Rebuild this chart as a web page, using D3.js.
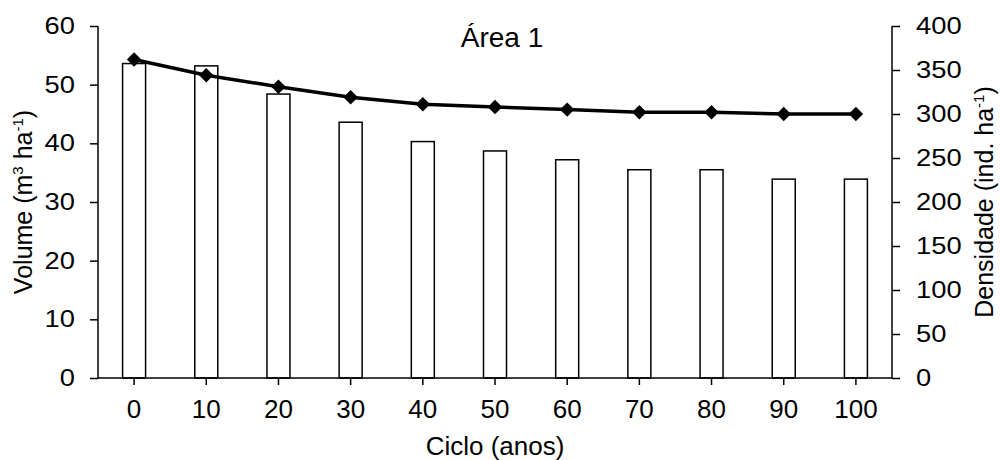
<!DOCTYPE html>
<html>
<head>
<meta charset="utf-8">
<script src="https://cdn.jsdelivr.net/npm/d3@7"></script>
<style>
  body { margin: 0; background: #fff; }
  text { font-family: "Liberation Sans", Arial, sans-serif; fill: #000; }
  .axis path, .axis line { stroke: #000; stroke-width: 1.5; }
</style>
</head>
<body>
<div id="chart"></div>
<script>
// Data
let ciclos = [0, 10, 20, 30, 40, 50, 60, 70, 80, 90, 100];
let volume = [53.6, 53.2, 48.4, 43.6, 40.3, 38.7, 37.2, 35.5, 35.5, 33.9, 33.9];
let densidade = [362, 344, 331, 319, 311, 308, 305, 302, 302, 300, 300];
let volumeTicks = [0, 10, 20, 30, 40, 50, 60];
let densidadeTicks = [0, 50, 100, 150, 200, 250, 300, 350, 400];

// Set dimensions and margins
let margin = { top: 26, right: 108, bottom: 82, left: 98 },
    width = 1000 - margin.left - margin.right,
    height = 460 - margin.top - margin.bottom;

// Set ranges
let x = d3.scaleBand().domain(ciclos).range([0, width]).padding(0);
let yL = d3.scaleLinear().domain([0, 60]).range([height, 0]);
let yR = d3.scaleLinear().domain([0, 400]).range([height, 0]);

let svg = d3.select('#chart')
    .append('svg')
    .attr('width', 1000)
    .attr('height', 460)
    .append('g')
    .attr('transform', 'translate(' + margin.left + ',' + margin.top + ')');

// Bars
let barW = 23;
svg.selectAll('.bar')
    .data(ciclos)
    .enter().append('rect')
    .attr('class', 'bar')
    .attr('x', function (d) { return x(d) + x.bandwidth() / 2 - barW / 2; })
    .attr('y', function (d, i) { return yL(volume[i]); })
    .attr('width', barW)
    .attr('height', function (d, i) { return height - yL(volume[i]); })
    .attr('fill', '#fff')
    .attr('stroke', '#000')
    .attr('stroke-width', 1.5);

// y tick labels are a little wider than the font in the original
function wideLabels(sel) {
    sel.style('font-size', '23px')
        .attr('lengthAdjust', 'spacingAndGlyphs')
        .attr('textLength', function () { return this.textContent.length * 15.2; });
}

// Axes
let xAxis = svg.append('g')
    .attr('class', 'axis')
    .attr('transform', 'translate(0,' + height + ')')
    .call(d3.axisBottom(x).tickSizeOuter(0).tickSize(7).tickPadding(15));
xAxis.selectAll('text').style('font-size', '26px');
xAxis.select('.domain').attr('d', 'M0,0H' + width);

let leftAxis = svg.append('g')
    .attr('class', 'axis')
    .call(d3.axisLeft(yL).tickValues(volumeTicks).tickSizeOuter(0).tickSize(8).tickPadding(15));
leftAxis.selectAll('text').call(wideLabels);
leftAxis.select('.domain').attr('d', 'M0,' + height + 'V0');

let rightAxis = svg.append('g')
    .attr('class', 'axis')
    .attr('transform', 'translate(' + width + ',0)')
    .call(d3.axisRight(yR).tickValues(densidadeTicks).tickSizeOuter(0).tickSize(8).tickPadding(16));
rightAxis.selectAll('text').call(wideLabels);
rightAxis.select('.domain').attr('d', 'M0,' + height + 'V0');

// Density line
let lineDens = d3.line()
    .x(function (d, i) { return x(ciclos[i]) + x.bandwidth() / 2; })
    .y(function (d) { return yR(d); });

svg.append('path')
    .datum(densidade)
    .attr('fill', 'none')
    .attr('stroke', '#000')
    .attr('stroke-width', 3.5)
    .attr('d', lineDens);

svg.selectAll('.pt')
    .data(densidade)
    .enter().append('path')
    .attr('class', 'pt')
    .attr('d', d3.symbol().type(d3.symbolSquare).size(104))
    .attr('transform', function (d, i) {
        return 'translate(' + (x(ciclos[i]) + x.bandwidth() / 2) + ',' + yR(d) + ') rotate(45)';
    })
    .attr('fill', '#000');

// Title
svg.append('text')
    .attr('x', 404)
    .attr('y', 21)
    .attr('text-anchor', 'middle')
    .style('font-size', '28px')
    .text('Área 1');

// Axis titles
svg.append('text')
    .attr('x', width / 2)
    .attr('y', height + 77)
    .attr('text-anchor', 'middle')
    .style('font-size', '26px')
    .text('Ciclo (anos)');

let tl = svg.append('text')
    .attr('transform', 'translate(' + (-66) + ',' + (height / 2) + ') rotate(-90)')
    .attr('text-anchor', 'middle')
    .style('font-size', '25px');
tl.append('tspan').text('Volume (m');
tl.append('tspan').attr('dy', -9).style('font-size', '15px').text('3');
tl.append('tspan').attr('dy', 9).text(' ha');
tl.append('tspan').attr('dy', -9).style('font-size', '15px').text('-1');
tl.append('tspan').attr('dy', 9).text(')');

let tr = svg.append('text')
    .attr('transform', 'translate(' + (width + 101) + ',' + (height / 2) + ') rotate(-90)')
    .attr('text-anchor', 'middle')
    .style('font-size', '25px');
tr.append('tspan').text('Densidade (ind. ha');
tr.append('tspan').attr('dy', -9).style('font-size', '15px').text('-1');
tr.append('tspan').attr('dy', 9).text(')');
</script>
</body>
</html>
